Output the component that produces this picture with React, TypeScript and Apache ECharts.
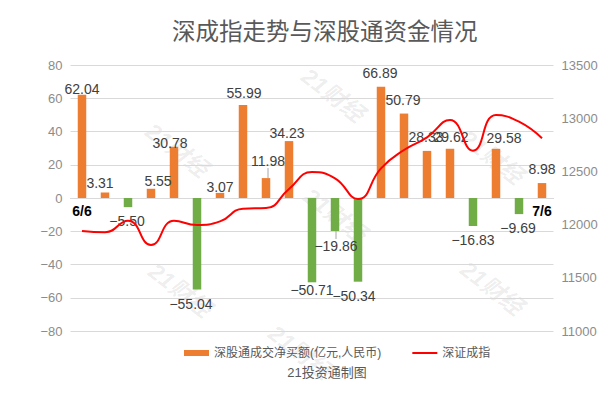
import React, { useEffect, useRef } from "react";
import * as echarts from "echarts";

const dates = [
  "6/6", "6/7", "6/8", "6/9", "6/10", "6/13", "6/14", "6/15", "6/16", "6/17", "6/20",
  "6/21", "6/22", "6/23", "6/24", "6/27", "6/28", "6/29", "7/4", "7/5", "7/6",
];
const netBuy = [
  62.04, 3.31, -5.5, 5.55, 30.78, -55.04, 3.07, 55.99, 11.98, 34.23, -50.71,
  -19.86, -50.34, 66.89, 50.79, 28.33, 29.62, -16.83, 29.58, -9.69, 8.98,
];
const szIndex = [
  11940, 11928, 12037, 11808, 12037, 11996, 12030, 12150, 12155, 12335, 12494,
  12435, 12241, 12529, 12701, 12820, 12983, 12695, 13030, 12967, 12811,
];
const leftTicks = { min: -80, max: 80, interval: 20 };
const rightTicks = { min: 11000, max: 13500, interval: 500 };

const barName = "深股通成交净买额(亿元,人民币)";
const lineName = "深证成指";

// label nudges [dx, dy] by bar index (manual label placement in the original)
const labelNudge: Record<number, [number, number]> = {
  0: [0, 8], 1: [-5, 4], 2: [-1, 0], 3: [7, 6], 4: [-4, 10], 5: [-6, 0],
  6: [0, 8], 7: [1, 2], 9: [-2, 6], 10: [0, -6],
  12: [-4, 0], 13: [-1, 0], 14: [-1, 0], 15: [-1, 0], 16: [1, 2], 18: [8, 3],
  19: [-1, 0],
};
// labels pulled away from their bar with a leader line: [dx, dy]
const leaderMove: Record<number, [number, number]> = { 8: [2, -10], 11: [1, 8] };

const fmt = (v: number) => (v < 0 ? "\u2212" + Math.abs(v).toFixed(2) : v.toFixed(2));

export default function App() {
  const ref = useRef<HTMLDivElement>(null);
  useEffect(() => {
    if (!ref.current) return;
    document.body.style.margin = "0";
    const chart = echarts.init(ref.current, null, { renderer: "svg" });
    const font = "'Liberation Sans', Arial, 'Noto Sans CJK SC', sans-serif";
    const barData = netBuy.map((v, i) => {
      const lead = leaderMove[i];
      return {
        value: v,
        itemStyle: { color: v >= 0 ? "#ED7D31" : "#70AD47" },
        label: lead
          ? { position: v >= 0 ? "top" : "bottom", distance: 0 }
          : { position: v >= 0 ? "top" : "bottom" },
        labelLine: lead
          ? { show: true, lineStyle: { color: "#a6a6a6", width: 1 } }
          : { show: false },
      };
    });
    const wm = (x: number, y: number) => ({
      type: "text",
      x,
      y,
      rotation: -0.66,
      silent: true,
      z: -1,
      style: {
        text: "21财经",
        fill: "rgba(0,0,0,0.08)",
        font: "italic bold 23px 'Liberation Sans', 'Noto Sans CJK SC', sans-serif",
        align: "center",
        verticalAlign: "middle",
      },
    });
    const grid = { left: 70.5, right: 57.5, top: 65, bottom: 67 };
    const plotH = 398 - grid.top - grid.bottom;
    const zeroOffset = -plotH * (0 - leftTicks.min) / (leftTicks.max - leftTicks.min);
    chart.setOption({
      animation: false,
      textStyle: { fontFamily: font },
      title: {
        text: "深成指走势与深股通资金情况",
        left: 167,
        top: 13,
        textStyle: {
          fontSize: 23.5,
          fontWeight: "normal",
          color: "#595959",
          fontFamily: "'Noto Sans CJK SC', sans-serif",
        },
      },
      graphic: [
        wm(177, 150), wm(180, 290), wm(333, 95), wm(335, 215),
        wm(492, 157), wm(492, 288), wm(300, 352),
        {
          type: "text",
          x: 327,
          y: 372,
          style: {
            text: "21投资通制图",
            fill: "#595959",
            font: "13px 'Liberation Sans', 'Noto Sans CJK SC', sans-serif",
            align: "center",
            verticalAlign: "middle",
          },
        },
      ],
      legend: {
        left: 179,
        top: 342,
        itemWidth: 25,
        itemHeight: 6,
        itemGap: 30,
        textStyle: { fontSize: 12, color: "#595959", fontFamily: font },
        data: [
          { name: barName, icon: "rect", itemStyle: { color: "#ED7D31" } },
          { name: lineName, itemStyle: { opacity: 0 } },
        ],
      },
      grid: { ...grid, containLabel: false },
      xAxis: {
        type: "category",
        data: dates,
        position: "bottom",
        offset: zeroOffset,
        axisTick: { show: false },
        axisLine: { show: true, onZero: false, lineStyle: { color: "#d9d9d9" } },
        axisLabel: {
          interval: (i: number) => i === 0 || i === dates.length - 1,
          fontWeight: "bold",
          color: "#000",
          fontSize: 14,
          margin: 6,
        },
      },
      yAxis: [
        {
          type: "value",
          min: leftTicks.min,
          max: leftTicks.max,
          interval: leftTicks.interval,
          axisLabel: {
            color: "#8c8c8c",
            fontSize: 13,
            margin: 8,
            formatter: (v: number) => (v < 0 ? "\u2212" + Math.abs(v) : String(v)),
          },
          splitLine: { lineStyle: { color: "#d9d9d9" } },
          axisLine: { show: false },
          axisTick: { show: false },
        },
        {
          type: "value",
          min: rightTicks.min,
          max: rightTicks.max,
          interval: rightTicks.interval,
          axisLabel: {
            color: "#8c8c8c",
            fontSize: 13,
            margin: 8,
            formatter: (v: number) => String(v),
          },
          splitLine: { show: false },
          axisLine: { show: false },
          axisTick: { show: false },
        },
      ],
      series: [
        {
          name: barName,
          type: "bar",
          data: barData,
          barWidth: 8.5,
          itemStyle: { color: "#ED7D31" },
          label: {
            show: true,
            distance: 7,
            fontSize: 14,
            color: "#404040",
            formatter: (p: any) => fmt(p.value),
          },
          labelLayout: (p: any) => {
            const m = leaderMove[p.dataIndex] || labelNudge[p.dataIndex];
            return m ? { dx: m[0], dy: m[1] } : {};
          },
        },
        {
          name: lineName,
          type: "line",
          yAxisIndex: 1,
          data: szIndex,
          smooth: 0.5,
          symbol: "circle",
          showSymbol: false,
          lineStyle: { color: "#FF0000", width: 2 },
          itemStyle: { color: "#FF0000", opacity: 0 },
          z: 3,
        },
      ],
    });
    return () => chart.dispose();
  }, []);
  return <div ref={ref} style={{ width: 611, height: 398 }} />;
}
